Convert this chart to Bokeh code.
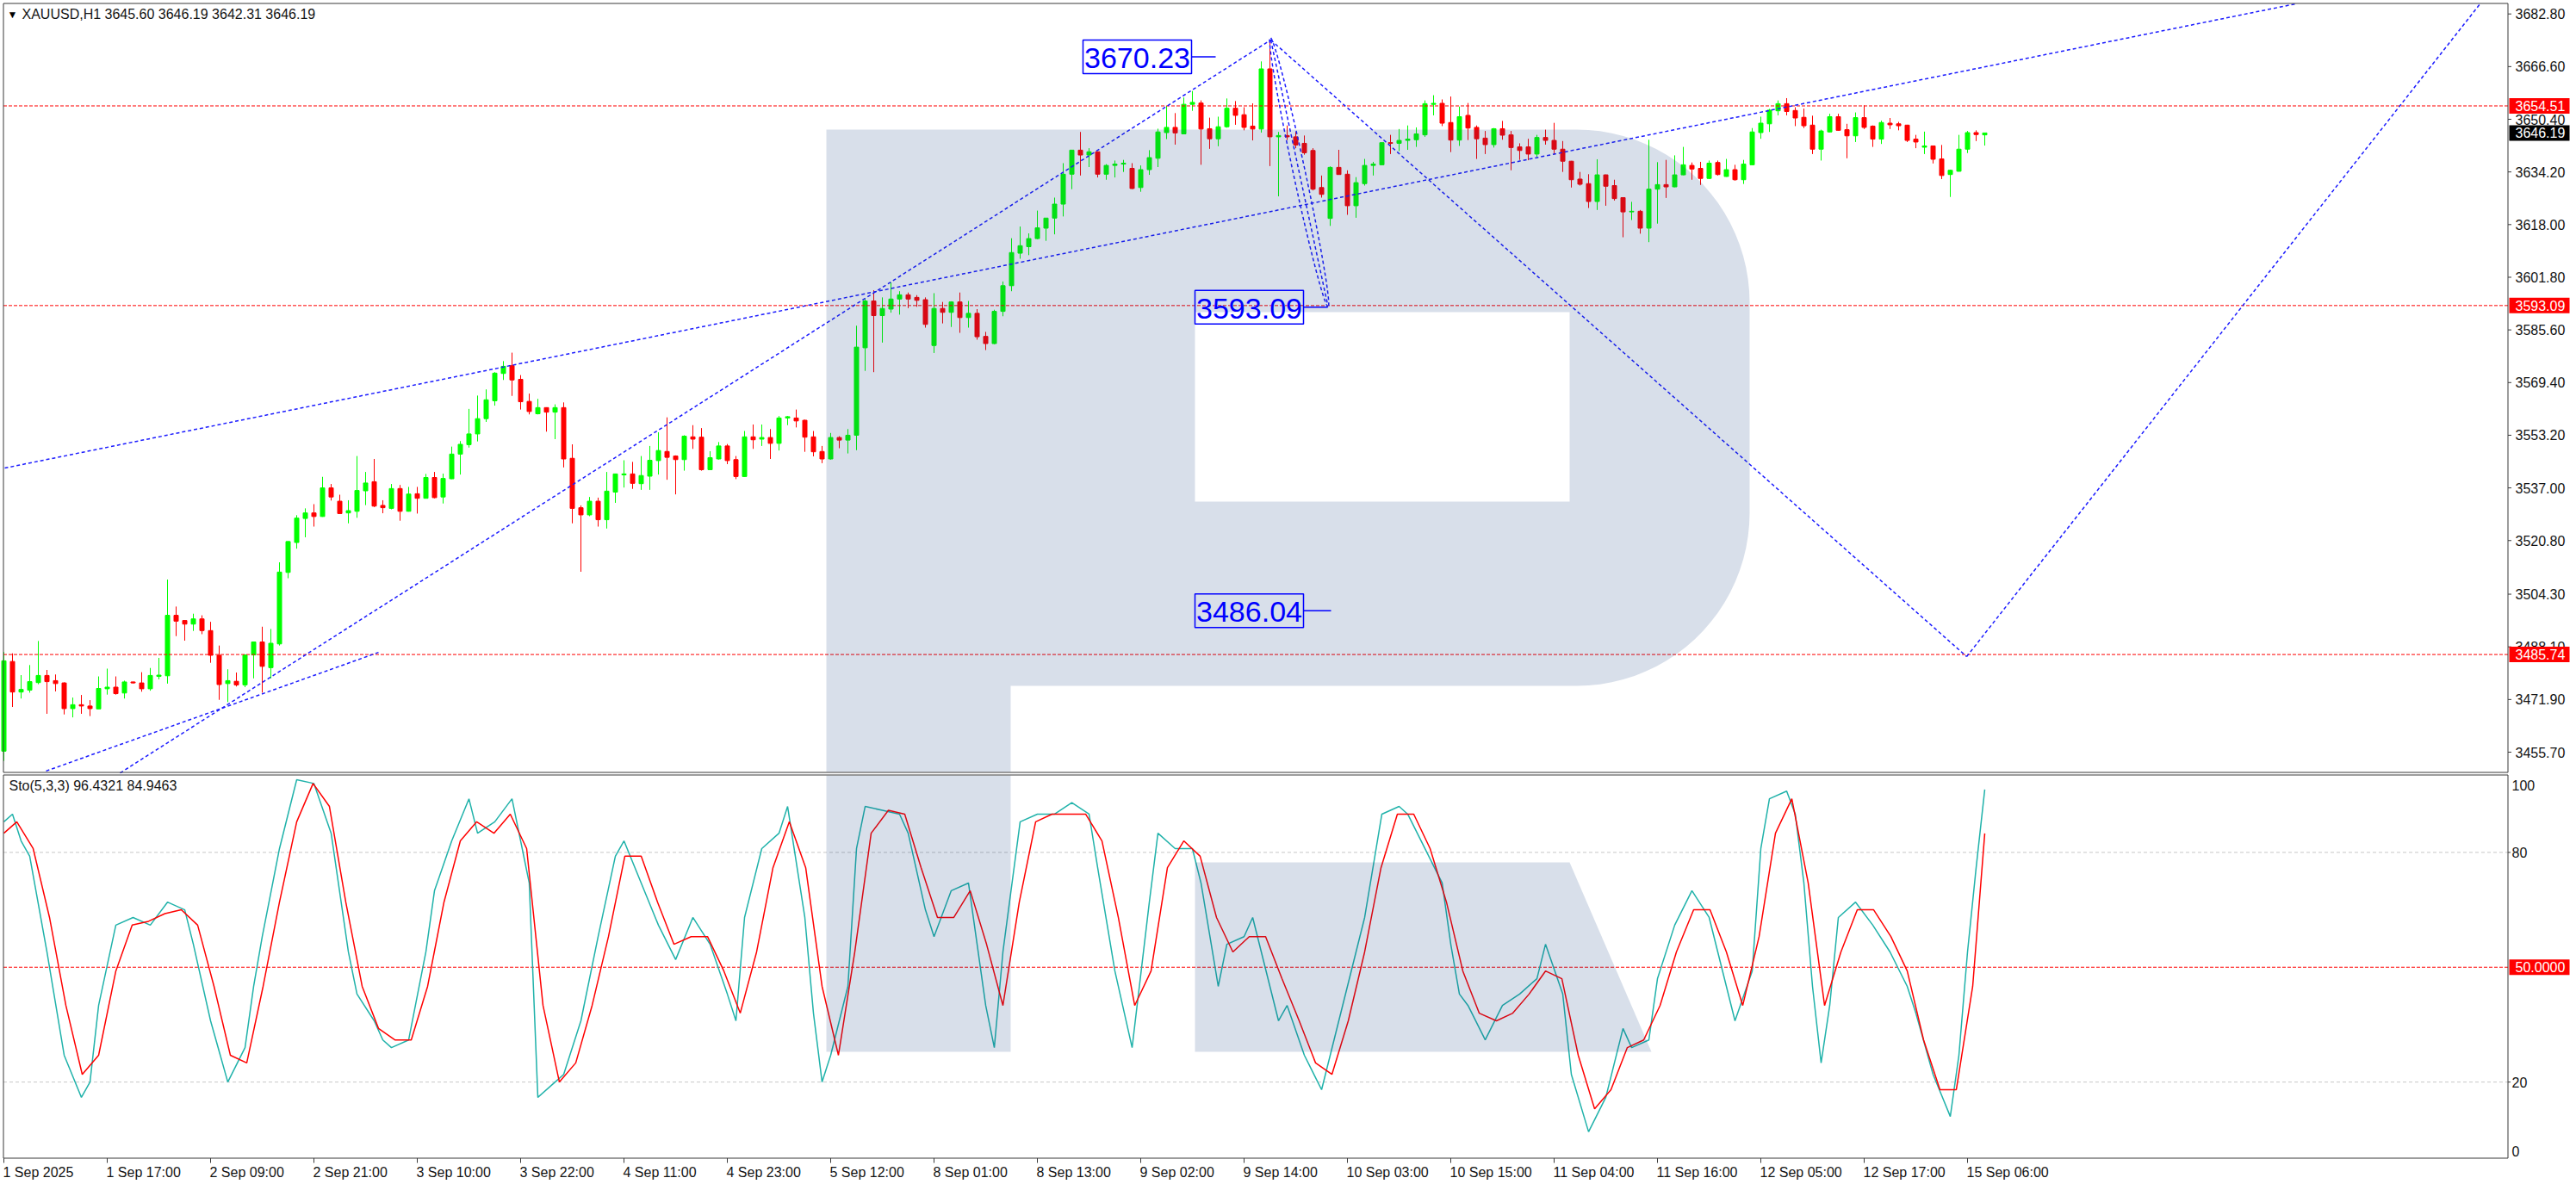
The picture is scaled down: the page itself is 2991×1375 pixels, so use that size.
import numpy as np
from bokeh.plotting import figure
from bokeh.models import Range1d
from bokeh.embed import file_html
from bokeh.resources import INLINE
from bokeh.core.properties import value

FONT = "Liberation Sans"

# ---------------- data (XAUUSD H1) ----------------
opens = [3456.0,3483.6,3474.2,3474.8,3477.1,3479.3,3477.7,3477.0,3469.1,3470.3,
 3469.9,3469.0,3475.2,3475.7,3473.9,3477.3,3477.0,3475.2,3479.0,3479.2,
 3497.8,3496.2,3495.1,3496.7,3493.1,3485.5,3476.8,3477.5,3476.4,3485.6,
 3489.6,3481.7,3489.0,3511.0,3520.2,3527.6,3529.3,3528.2,3537.0,3532.9,
 3529.3,3529.8,3536.1,3538.9,3531.6,3530.7,3536.8,3529.8,3535.2,3533.8,
 3540.2,3534.2,3539.8,3547.4,3550.3,3553.6,3558.3,3563.8,3572.2,3574.6,
 3570.4,3563.6,3559.8,3561.7,3560.3,3561.7,3546.1,3530.9,3528.7,3532.9,
 3527.2,3535.7,3541.0,3541.3,3538.3,3540.6,3545.4,3548.2,3546.8,3545.7,
 3552.7,3552.6,3542.6,3545.9,3549.9,3545.7,3540.5,3552.7,3552.0,3552.5,
 3550.7,3558.5,3558.5,3557.8,3552.7,3548.2,3545.9,3552.5,3551.7,3553.2,
 3580.1,3594.5,3590.0,3592.0,3595.1,3596.4,3595.6,3594.9,3580.8,3592.2,
 3591.0,3594.2,3589.4,3590.7,3583.6,3581.4,3591.3,3599.2,3609.2,3611.2,
 3613.7,3616.9,3620.0,3624.3,3633.5,3640.9,3639.4,3640.4,3633.5,3636.2,
 3636.6,3635.3,3629.4,3634.9,3638.4,3646.3,3647.9,3645.9,3655.0,3655.4,
 3647.5,3644.4,3648.1,3653.8,3651.8,3648.3,3647.4,3665.9,3645.0,3645.4,
 3645.0,3643.0,3640.8,3629.4,3619.9,3635.6,3633.5,3623.8,3630.6,3636.2,
 3636.4,3643.2,3643.0,3643.9,3644.1,3645.6,3655.0,3655.3,3649.4,3644.0,
 3651.6,3647.9,3644.6,3642.6,3647.5,3645.6,3641.9,3641.9,3639.7,3644.8,
 3643.9,3641.2,3637.5,3632.0,3630.6,3625.1,3633.3,3630.0,3626.3,3621.9,
 3622.1,3616.9,3628.9,3630.3,3629.6,3633.3,3636.2,3635.3,3632.2,3637.1,
 3632.8,3634.9,3631.8,3636.4,3646.3,3649.0,3653.0,3655.2,3653.1,3651.0,
 3648.6,3641.2,3646.5,3651.2,3647.2,3645.3,3650.9,3648.3,3644.3,3649.2,
 3649.0,3648.6,3644.3,3641.8,3642.2,3638.2,3633.4,3634.4,3641.2,3646.3,
 3645.60]
highs = [3486.5,3486.1,3479.4,3482.5,3489.9,3481.0,3479.6,3477.2,3472.5,3473.3,
 3471.7,3479.0,3481.4,3479.0,3477.7,3477.4,3480.3,3481.6,3484.7,3508.8,
 3500.5,3496.3,3498.3,3497.8,3495.8,3488.5,3481.2,3480.2,3485.8,3489.7,
 3494.3,3493.6,3514.1,3520.6,3528.6,3530.7,3532.0,3540.4,3538.2,3534.9,
 3533.2,3546.8,3541.9,3545.9,3533.2,3538.2,3537.9,3537.3,3537.3,3541.3,
 3541.9,3541.4,3549.7,3551.4,3561.3,3565.4,3567.3,3572.6,3576.0,3578.6,
 3571.7,3566.0,3564.4,3561.8,3562.7,3563.3,3550.4,3531.6,3534.2,3534.0,
 3541.9,3541.4,3545.5,3545.0,3546.8,3549.9,3554.1,3558.7,3547.0,3553.2,
 3556.3,3555.4,3548.3,3551.1,3550.5,3546.8,3554.5,3556.5,3556.5,3555.1,
 3559.1,3559.1,3561.1,3558.0,3554.5,3549.9,3553.9,3552.9,3555.1,3586.9,
 3595.1,3597.8,3595.6,3600.2,3597.5,3597.1,3596.3,3595.6,3596.9,3594.2,
 3594.4,3597.1,3594.5,3592.0,3585.0,3591.8,3600.5,3613.8,3617.4,3615.3,
 3622.3,3620.0,3626.3,3636.9,3641.0,3646.5,3641.5,3640.5,3636.6,3637.7,
 3637.9,3636.9,3636.2,3640.9,3647.5,3654.5,3652.3,3657.1,3659.1,3656.2,
 3650.9,3651.2,3656.8,3656.0,3654.1,3655.3,3668.2,3674.4,3646.5,3648.5,
 3646.5,3645.4,3641.5,3633.1,3635.9,3641.0,3634.7,3632.6,3638.2,3637.3,
 3643.3,3645.6,3647.4,3648.5,3647.9,3656.2,3657.8,3656.5,3657.4,3654.3,
 3655.4,3648.5,3646.8,3647.7,3649.9,3646.8,3643.0,3644.4,3645.6,3647.2,
 3649.3,3643.7,3637.6,3634.2,3633.5,3638.1,3633.4,3631.8,3626.4,3625.0,
 3622.5,3644.1,3637.2,3637.9,3639.3,3641.9,3637.1,3637.3,3637.7,3637.7,
 3638.2,3636.4,3637.9,3647.7,3651.2,3653.6,3656.2,3656.9,3654.1,3653.7,
 3651.5,3647.2,3652.1,3652.1,3649.0,3652.5,3654.7,3648.5,3650.0,3650.8,
 3649.6,3648.7,3645.6,3646.6,3642.3,3642.5,3634.9,3645.6,3646.8,3647.0,
 3646.19]
lows = [3453.0,3469.6,3472.2,3474.0,3476.6,3467.5,3474.4,3467.3,3466.4,3467.5,
 3466.8,3469.0,3473.4,3473.4,3472.2,3476.8,3474.3,3474.6,3478.1,3476.8,
 3491.4,3490.0,3493.0,3492.0,3483.2,3471.8,3471.1,3475.9,3475.7,3478.4,
 3474.0,3478.4,3488.5,3509.2,3518.3,3521.8,3525.1,3528.1,3533.1,3529.0,
 3526.1,3527.8,3531.7,3531.1,3529.2,3530.4,3526.9,3529.7,3529.1,3533.7,
 3533.8,3532.2,3539.7,3541.1,3549.4,3551.3,3557.3,3562.3,3570.2,3565.3,
 3561.1,3559.6,3559.6,3554.3,3552.0,3543.3,3526.1,3511.2,3528.3,3525.1,
 3524.5,3532.4,3537.1,3536.7,3536.4,3536.4,3541.1,3539.5,3535.0,3542.3,
 3549.0,3542.3,3542.5,3545.7,3544.3,3539.7,3540.4,3549.0,3549.9,3545.9,
 3548.5,3556.3,3555.6,3548.1,3546.7,3544.6,3545.7,3549.2,3547.6,3548.6,
 3573.0,3572.6,3581.7,3590.9,3590.3,3592.3,3592.7,3586.3,3578.5,3587.6,
 3586.5,3584.7,3586.3,3582.6,3579.4,3581.2,3589.8,3597.5,3607.5,3608.6,
 3613.5,3613.0,3615.0,3620.5,3628.9,3633.1,3635.7,3632.5,3631.8,3632.5,
 3634.2,3628.9,3628.1,3633.3,3635.7,3644.3,3642.6,3645.8,3653.0,3636.4,
 3641.3,3642.1,3647.8,3648.7,3647.0,3643.9,3646.3,3636.0,3626.7,3644.0,
 3641.5,3639.5,3628.5,3626.3,3617.6,3633.4,3621.0,3620.1,3630.0,3633.1,
 3636.3,3639.7,3640.6,3641.0,3641.9,3645.0,3651.6,3648.3,3640.3,3642.2,
 3644.0,3638.2,3639.7,3641.7,3644.1,3634.7,3637.9,3637.8,3638.8,3642.6,
 3639.5,3634.2,3629.4,3630.0,3623.1,3622.5,3623.8,3625.4,3614.1,3619.4,
 3615.2,3612.6,3618.3,3626.2,3629.5,3633.2,3631.8,3630.2,3632.0,3633.1,
 3632.7,3631.5,3630.5,3636.3,3644.4,3646.5,3651.6,3651.6,3648.3,3647.7,
 3639.7,3637.7,3646.4,3646.9,3638.4,3643.4,3647.4,3641.9,3642.8,3647.4,
 3647.0,3643.4,3641.5,3639.7,3636.8,3632.0,3626.5,3634.3,3640.0,3643.7,
 3642.31]
closes = [3483.8,3474.2,3475.0,3477.4,3479.3,3477.4,3476.8,3469.1,3470.3,3469.9,
 3469.1,3475.3,3475.7,3473.7,3477.3,3477.0,3475.2,3479.3,3479.4,3497.8,
 3496.0,3495.1,3496.7,3493.1,3485.5,3476.5,3477.7,3476.4,3485.6,3489.6,
 3482.1,3489.2,3511.1,3520.5,3527.7,3529.3,3528.2,3537.0,3534.2,3529.1,
 3530.0,3536.2,3538.5,3531.4,3530.9,3536.8,3529.8,3535.1,3533.8,3540.2,
 3534.0,3539.9,3547.4,3550.4,3553.6,3558.3,3564.1,3572.3,3574.4,3570.2,
 3563.5,3560.5,3561.7,3560.3,3561.7,3545.9,3530.7,3528.7,3532.9,3527.2,
 3536.0,3541.3,3541.3,3538.4,3540.8,3545.5,3548.5,3546.4,3545.7,3552.9,
 3552.0,3542.6,3546.3,3549.9,3545.4,3540.5,3552.7,3551.8,3552.5,3550.7,
 3558.5,3558.9,3557.6,3552.6,3548.1,3545.9,3552.5,3551.7,3553.2,3580.3,
 3594.5,3590.0,3592.2,3595.1,3596.4,3595.1,3594.7,3587.3,3592.2,3591.0,
 3594.2,3589.4,3590.7,3583.5,3581.4,3591.3,3599.2,3609.4,3611.5,3613.7,
 3617.0,3620.0,3624.3,3633.5,3640.9,3639.4,3640.4,3633.5,3636.2,3636.6,
 3636.9,3629.1,3634.9,3638.6,3646.5,3647.9,3646.2,3655.0,3655.6,3647.4,
 3644.4,3648.1,3653.8,3651.6,3647.9,3647.4,3665.9,3645.0,3645.4,3645.0,
 3642.5,3640.1,3628.9,3627.3,3635.6,3633.4,3623.8,3630.9,3636.2,3636.6,
 3643.2,3643.0,3643.9,3644.3,3645.9,3655.2,3655.3,3649.2,3644.0,3651.2,
 3647.7,3644.4,3642.6,3647.5,3645.5,3641.7,3640.8,3639.7,3644.8,3643.9,
 3641.2,3637.5,3631.8,3630.4,3625.1,3633.3,3629.8,3626.0,3621.9,3622.1,
 3616.9,3628.9,3630.3,3629.6,3633.3,3636.4,3635.1,3632.2,3636.9,3633.4,
 3634.9,3631.8,3636.6,3646.5,3649.2,3653.2,3655.2,3652.8,3650.8,3648.4,
 3641.2,3646.8,3651.2,3647.0,3645.3,3650.9,3647.9,3644.3,3649.4,3648.7,
 3648.4,3643.9,3643.4,3642.2,3638.1,3633.1,3634.7,3641.2,3646.3,3645.7,
 3646.19]

# Stochastic(5,3,3): main (%K) and signal (%D)
k_bars = [0,1,2,3,5,7,9,10,11,13,15,17,19,21,22,24,26,28,29,30,32,34,36,38,40,41,43,44,45,47,
 49,50,52,54,55,57,59,61,62,64,65,67,69,71,72,74,76,78,80,82,84,85,86,88,90,91,93,94,95,96,
 98,99,100,102,104,105,107,108,110,112,114,115,116,118,120,122,124,126,127,129,131,133,134,136,138,139,141,142,144,145,
 146,148,149,151,153,154,156,158,160,162,163,165,167,168,169,170,172,174,176,178,179,181,182,184,186,188,189,191,192,194,
 196,198,200,201,203,204,205,207,208,209,210,211,212,213,215,217,219,221,222,224,226,227,228,229,230]
k_vals = [88,90,83,79,54,27,16,20,40,61,63,61,67,65,56,36,20,29,45,58,81,99,98,85,54,43,36,31,29,31,
 54,70,83,94,85,88,94,72,16,20,22,36,58,79,83,72,61,52,63,56,43,36,63,81,85,92,63,38,20,27,
 45,81,92,91,90,85,65,58,70,72,40,29,54,88,90,90,93,90,76,49,29,67,85,81,81,72,45,56,58,63,
 54,36,40,27,18,27,45,63,90,92,90,81,72,56,43,40,31,40,43,47,56,43,22,7,16,34,29,31,47,61,
 70,63,45,36,49,81,94,96,90,72,45,25,40,63,67,61,54,45,38,22,11,27,54,76,96.43]
d_bars = [0,1.5,3.4,5.3,7.2,9.1,11.0,13.0,14.9,16.8,18.7,20.6,22.5,24.4,26.3,28.2,30.1,32.0,34.0,35.9,
 37.8,39.7,41.6,43.5,45.4,47.3,49.2,51.1,53.0,54.9,56.9,58.8,60.7,62.6,64.5,66.4,68.3,70.2,72.1,74.0,
 75.9,77.8,79.8,81.7,83.6,85.5,87.4,89.3,91.2,93.1,95.0,96.9,98.8,100.7,102.7,104.6,106.5,108.4,110.3,112.2,
 114.1,116.0,117.9,119.8,121.7,123.6,125.6,127.5,129.4,131.3,133.2,135.1,137.0,138.9,140.8,142.7,144.6,146.5,148.4,150.4,
 152.3,154.2,156.1,158.0,159.9,161.8,163.7,165.6,167.5,169.4,171.3,173.3,175.2,177.1,179.0,180.9,182.8,184.7,186.6,188.5,
 190.4,192.3,194.2,196.2,198.1,200.0,201.9,203.8,205.7,207.6,209.5,211.4,213.3,215.2,217.1,219.1,221.0,222.9,224.8,226.7,
 228.6,230]
d_vals = [85,88,81,63,40,22,27,49,61,62,64,65,61,45,27,25,45,67,88,98,
 92,67,45,34,31,31,45,67,83,88,85,90,81,40,20,25,40,58,79,79,
 67,56,58,58,49,38,54,76,88,76,45,27,54,85,91,90,76,63,63,70,
 56,40,67,88,90,90,90,83,63,40,49,76,83,79,63,54,58,58,47,36,
 25,22,36,54,76,90,90,81,67,49,38,36,38,43,49,47,27,13,18,29,
 31,40,54,65,65,54,40,58,85,94,72,40,54,65,65,58,49,31,18,18,
 45,84.95]

price_ticks = [3455.70,3471.90,3488.10,3504.30,3520.80,3537.00,3553.20,3569.40,
               3585.60,3601.80,3618.00,3634.20,3650.40,3666.60,3682.80]
x_tick_bars = list(range(0, 229, 12))
x_tick_labels = ["1 Sep 2025","1 Sep 17:00","2 Sep 09:00","2 Sep 21:00","3 Sep 10:00",
                 "3 Sep 22:00","4 Sep 11:00","4 Sep 23:00","5 Sep 12:00","8 Sep 01:00",
                 "8 Sep 13:00","9 Sep 02:00","9 Sep 14:00","10 Sep 03:00","10 Sep 15:00",
                 "11 Sep 04:00","11 Sep 16:00","12 Sep 05:00","12 Sep 17:00","15 Sep 06:00"]

level_prices = [3654.51, 3593.09, 3485.74]
last_price = 3646.19
sto_levels = [20, 80]
sto_mid = 50
header_text = "XAUUSD,H1  3645.60 3646.19 3642.31 3646.19"
sto_header = "Sto(5,3,3) 96.4321 84.9463"

# analyst drawings (bar index, price)
tl_x0 = [0.1, 13.5, 4.9, 147.1, 227.9, 147.1]
tl_y0 = [3543.1, 3449.3, 3449.9, 3674.8, 3485.1, 3674.8]
tl_x1 = [266.1, 147.1, 43.5, 227.9, 287.6, 153.7]
tl_y1 = [3685.9, 3674.8, 3486.4, 3485.1, 3686.2, 3593.4]
ann_texts = ["3670.23", "3593.09", "3486.04"]
ann_x = [131.6, 144.6, 144.6]
ann_y = [3669.6, 3592.6, 3499.2]
ann_tip_x = [140.7, 153.7, 154.1]

# ---------------- geometry helpers (page pixels -> data) ----------------
W, H = 2991, 1375

def bx(X):             # page x -> bar coordinate
    return (X - 4.0) / 10.0

def py(Y):             # page y -> price coordinate (main panel)
    return 3682.8 - (Y - 15.7) / 3.775

def sy(Y):             # page y -> stochastic coordinate (lower panel)
    return (1345.0 - Y) / 4.445

GREEN = "#00ff00"
RED = "#ff0000"
BLUE = "#1c1cff"
AXC = "#3a3a3a"
TXT = "#141414"

p = figure(width=W, height=H, x_range=Range1d(bx(0), bx(W)),
           y_range=Range1d(py(H), py(0)), output_backend="svg",
           toolbar_location=None, x_axis_location=None, y_axis_location=None,
           min_border=0, min_border_left=0, min_border_right=0,
           min_border_top=0, min_border_bottom=0, outline_line_color=None)
p.extra_y_ranges = {"sto": Range1d(sy(H), sy(0))}
p.grid.visible = False
p.background_fill_color = "white"
p.border_fill_color = "white"

FR_L, FR_R = bx(3.5), bx(2911.5)

def txt(x, y, t, size="16px", color=TXT, align="left", baseline="middle", rng="default"):
    p.text(x=x, y=y, text=t, text_font=value(FONT), text_font_size=value(size),
           text_color=color, text_align=align, text_baseline=baseline, y_range_name=rng)

# ---------------- candles ----------------
n = len(opens)
xs = list(range(n))
col = [GREEN if c >= o else RED for o, c in zip(opens, closes)]
tops = [max(o, c) for o, c in zip(opens, closes)]
bots = [min(o, c) for o, c in zip(opens, closes)]
p.segment(x0=xs, y0=lows, x1=xs, y1=highs, line_color=col, line_width=1)
p.vbar(x=xs, width=0.5, top=tops, bottom=bots, fill_color=col, line_color=col, line_width=1)

# horizontal levels
p.segment(x0=[FR_L] * len(level_prices), y0=level_prices, x1=[FR_R] * len(level_prices),
          y1=level_prices, line_color=RED, line_dash="4 2", line_width=1)

# analyst lines
p.segment(x0=tl_x0, y0=tl_y0, x1=tl_x1, y1=tl_y1, line_color=BLUE, line_width=1.5,
          line_dash="4 3")

# narrow ellipse drawn along the first down leg (peak -> 3593.09)
PX0, PY0, PX1, PY1 = 1475.0, 46.0, 1541.0, 353.0
cxm, cym = (PX0 + PX1) / 2, (PY0 + PY1) / 2
L = np.hypot(PX1 - PX0, PY1 - PY0)
ux, uy = (PX1 - PX0) / L, (PY1 - PY0) / L
t = np.linspace(0, 2 * np.pi, 120)
ex = cxm + (L / 2 + 3) * np.cos(t) * ux - 7 * np.sin(t) * uy
ey = cym + (L / 2 + 3) * np.cos(t) * uy + 7 * np.sin(t) * ux
p.line(x=[bx(v) for v in ex], y=[py(v) for v in ey], line_color=BLUE, line_width=1.5,
       line_dash="4 3")

# ---------------- stochastic ----------------
p.segment(x0=[FR_L] * 2, y0=sto_levels, x1=[FR_R] * 2, y1=sto_levels,
          line_color="#c8c8c8", line_dash="4 3", line_width=1, y_range_name="sto")
p.segment(x0=[FR_L], y0=[sto_mid], x1=[FR_R], y1=[sto_mid],
          line_color=RED, line_dash="4 2", line_width=1, y_range_name="sto")
p.line(k_bars, k_vals, line_color="#20b2aa", line_width=1.5, y_range_name="sto")
p.line(d_bars, d_vals, line_color=RED, line_width=1.5, y_range_name="sto")

# ---------------- watermark (semi transparent "R" logo) ----------------
def arc(cx, cy, r, a0, a1, num=24):
    tt = np.linspace(a0, a1, num)
    return list(cx + r * np.cos(tt)), list(cy + r * np.sin(tt))

ax1, ay1 = arc(1830, 351, 201, -np.pi / 2, 0)
ax2, ay2 = arc(1830, 595, 201, 0, np.pi / 2)
outer_X = [959, 1830] + ax1 + ax2 + [1173, 1173, 959]
outer_Y = [150, 150] + ay1 + ay2 + [796, 896, 896]
hole_X = [1387, 1822, 1822, 1387]
hole_Y = [362, 362, 582, 582]
WM = "#0a3a7a"
p.multi_polygons(
    xs=[[[[bx(v) for v in outer_X], [bx(v) for v in hole_X]]]],
    ys=[[[[py(v) for v in outer_Y], [py(v) for v in hole_Y]]]],
    fill_color=WM, fill_alpha=0.16, line_color=None)
stem_X = [959, 1173, 1173, 959]
stem_Y = [900, 900, 1221, 1221]
leg_X = [1387, 1822, 1917, 1387]
leg_Y = [1001, 1001, 1221, 1221]
p.multi_polygons(
    xs=[[[[bx(v) for v in stem_X]]], [[[bx(v) for v in leg_X]]]],
    ys=[[[[sy(v) for v in stem_Y]]], [[[sy(v) for v in leg_Y]]]],
    fill_color=WM, fill_alpha=0.16, line_color=None, y_range_name="sto")

# ---------------- price labels drawn by the analyst ----------------
BOX_HW = 6.3                 # half width in bars
BOX_HH = 19.5 / 3.775        # half height in price units
p.quad(left=[x - BOX_HW for x in ann_x], right=[x + BOX_HW for x in ann_x],
       top=[y + BOX_HH for y in ann_y], bottom=[y - BOX_HH for y in ann_y],
       fill_color=None, line_color="#0000ff", line_width=1.5)
p.segment(x0=[x + BOX_HW for x in ann_x], y0=ann_y, x1=ann_tip_x, y1=ann_y,
          line_color="#0000ff", line_width=1.5)
txt(ann_x, [y - 0.4 for y in ann_y], ann_texts, size="34px", color="#0000ff", align="center")

# ---------------- frames ----------------
p.quad(left=[FR_L], right=[FR_R], top=[py(3.5)], bottom=[py(896.5)],
       fill_color=None, line_color=AXC, line_width=1)
p.quad(left=[FR_L], right=[FR_R], top=[sy(899.5)], bottom=[sy(1344.5)],
       fill_color=None, line_color=AXC, line_width=1, y_range_name="sto")

# ---------------- price axis ----------------
p.segment(x0=[FR_R] * len(price_ticks), y0=price_ticks, x1=[bx(2915.5)] * len(price_ticks),
          y1=price_ticks, line_color=AXC, line_width=1)
txt([bx(2920)] * len(price_ticks), price_ticks, ["%.2f" % v for v in price_ticks])

BH = 9.0 / 3.775
box_prices = level_prices + [last_price]
box_cols = [RED] * len(level_prices) + ["#000000"]
p.quad(left=[bx(2913)] * 4, right=[bx(2983)] * 4, top=[v + BH for v in box_prices],
       bottom=[v - BH for v in box_prices], fill_color=box_cols, line_color=None)
txt([bx(2920)] * 4, box_prices, ["%.2f" % v for v in box_prices], color="white")

# ---------------- stochastic axis ----------------
p.segment(x0=[FR_R] * 2, y0=sto_levels, x1=[bx(2914.5)] * 2, y1=sto_levels,
          line_color=AXC, line_width=1, y_range_name="sto")
txt([bx(2916)] * 4, [sy(911), 80, 20, sy(1336)], ["100", "80", "20", "0"], rng="sto")
SH = 9.0 / 4.445
p.quad(left=[bx(2913)], right=[bx(2983)], top=[sto_mid + SH], bottom=[sto_mid - SH],
       fill_color=RED, line_color=None, y_range_name="sto")
txt([bx(2920)], [sto_mid], ["50.0000"], color="white", rng="sto")

# ---------------- time axis ----------------
p.segment(x0=x_tick_bars, y0=[sy(1344.5)] * len(x_tick_bars), x1=x_tick_bars,
          y1=[sy(1350)] * len(x_tick_bars), line_color=AXC, line_width=1, y_range_name="sto")
txt([b - 0.1 for b in x_tick_bars], [sy(1352)] * len(x_tick_bars), x_tick_labels,
    baseline="top", rng="sto")

# ---------------- headers ----------------
txt([bx(8)], [py(16)], ["\u25bc"], size="12px", color="#000000")
txt([bx(25)], [py(16)], [header_text])
txt([bx(10)], [sy(912)], [sto_header], rng="sto")

open("out.html", "w").write(file_html(p, INLINE, "XAUUSD H1"))
